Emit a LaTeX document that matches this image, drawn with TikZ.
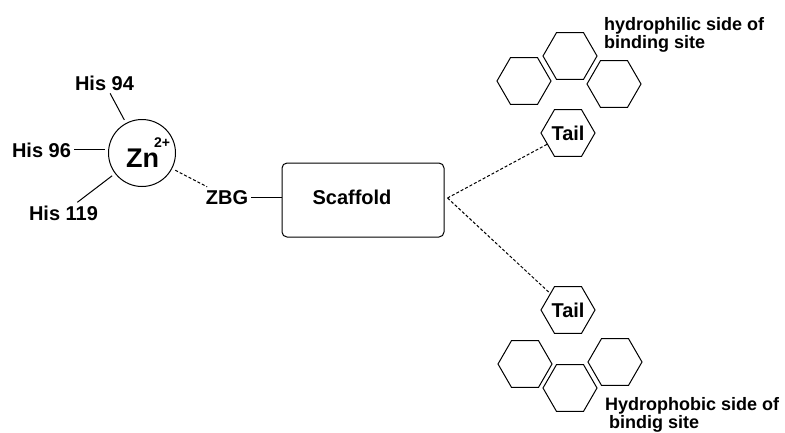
\documentclass[tikz,border=0pt]{standalone}
\usepackage{fontspec}
\setmainfont{Liberation Sans}
\usetikzlibrary{shapes.geometric}
\begin{document}
\begin{tikzpicture}[x=1pt,y=-1pt,
  lbl/.style={font=\fontsize{20}{22}\selectfont\bfseries, inner sep=3pt},
  note/.style={font=\fontsize{18}{19}\selectfont\bfseries, inner sep=0pt, anchor=base west},
  hex/.style={draw, regular polygon, regular polygon sides=6, minimum size=54pt,
              inner sep=0pt, line width=1pt},
  bond/.style={line width=1pt},
  weak/.style={line width=1pt, dash pattern=on 3pt off 2pt}]
\useasboundingbox (0,0) rectangle (785,432);

% zinc ion and its histidine ligands
\node[draw, circle, minimum size=67pt, inner sep=0pt, outer sep=4pt, line width=1pt] (zn) at (142,153) {};
\node[font=\fontsize{27}{27}\selectfont\bfseries, anchor=base, inner sep=0pt] (znlabel) at (148,167)
  {Zn\kern-5pt\raisebox{20pt}{\fontsize{14}{14}\selectfont 2+}};
\node[lbl, anchor=base] (his94) at (104.5,90) {His 94};
\node[lbl, anchor=base] (his96) at (41.5,157) {His 96};
\node[lbl, anchor=base] (his119) at (63.5,220) {His 119};
\draw[bond] (his94) -- (zn);
\draw[bond] (his96.east) -- (his96.east -| zn.west);
\draw[bond] (his119) -- (zn);

% zinc binding group and scaffold
\node[lbl, anchor=base] (zbg) at (227,204) {ZBG};
\draw[weak] (zn) -- (zbg);
\node[draw, rounded corners=5pt, line width=1pt, minimum width=162pt, minimum height=74pt] (scaf) at (363,200) {};
\node[lbl, anchor=base] (scaftext) at (352,204) {Scaffold};
\draw[bond] (zbg.east) -- (zbg.east -| scaf.west);

% tails
\coordinate (fork) at ([xshift=3pt,yshift=2pt]scaf.east);
\node[hex, font=\fontsize{20}{22}\selectfont\bfseries] (tailup) at (568,133) {Tail};
\node[hex, font=\fontsize{20}{22}\selectfont\bfseries] (taildown) at (568,310) {Tail};
\draw[weak] (fork) -- (tailup);
\draw[weak] (fork) -- (taildown);

% hydrophilic side
\node[hex] (p1) at (524,81) {};
\node[hex] (p2) at (570,56) {};
\node[hex] (p3) at (614,84) {};
\node[note] (philic1) at (604,30) {hydrophilic side of};
\node[note] (philic2) at (604,48) {binding site};

% hydrophobic side
\node[hex] (q1) at (525,364) {};
\node[hex] (q2) at (570,388) {};
\node[hex] (q3) at (615,362) {};
\node[note] (phobic1) at (605,410) {Hydrophobic side of};
\node[note] (phobic2) at (609,428) {bindig site};
\end{tikzpicture}
\end{document}
